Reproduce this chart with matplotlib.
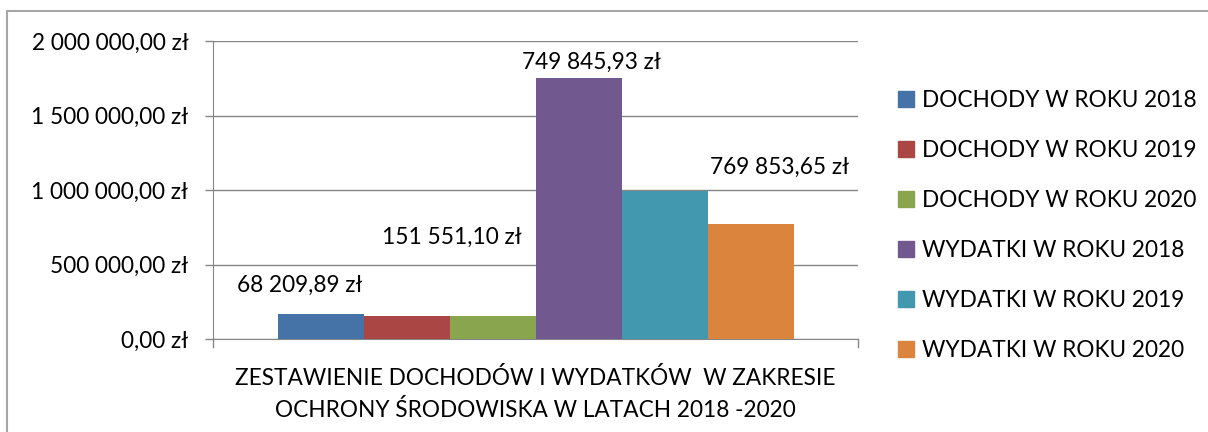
import matplotlib
matplotlib.use("Agg")
import matplotlib.pyplot as plt
from matplotlib.patches import Rectangle
from matplotlib.lines import Line2D

plt.rcParams['font.family'] = ['Lato', 'DejaVu Sans']

series = ["DOCHODY W ROKU 2018", "DOCHODY W ROKU 2019", "DOCHODY W ROKU 2020",
          "WYDATKI W ROKU 2018", "WYDATKI W ROKU 2019", "WYDATKI W ROKU 2020"]
values = [168209.89, 155000.00, 151551.10, 1749845.93, 995000.00, 769853.65]
colors = ["#4572A7", "#AA4643", "#89A54E", "#71588F", "#4198AF", "#DB843D"]
category = "ZESTAWIENIE DOCHODÓW I WYDATKÓW  W ZAKRESIE\nOCHRONY ŚRODOWISKA W LATACH 2018 -2020"
yticks = [0, 500000, 1000000, 1500000, 2000000]
ytick_labels = ["0,00 zł", "500 000,00 zł", "1 000 000,00 zł", "1 500 000,00 zł", "2 000 000,00 zł"]
# data labels as shown in the chart (series index, text, pixel offset)
label_series = [0, 2, 3, 5]
label_texts = ["68 209,89 zł", "151 551,10 zł", "749 845,93 zł", "769 853,65 zł"]
label_offsets = [(-21, 29), (-41, 79), (13, 16), (29, 57)]

FS = 16.3
W, H = 1208, 432
fig = plt.figure(figsize=(W / 100, H / 100), dpi=100)

# outer chart border (only top/left visible)
fig.patches.append(Rectangle((7 / W, -0.2), 1.2, 1.2 - 11 / H, transform=fig.transFigure,
                             fill=False, edgecolor="#A6A6A6", linewidth=1.5))

left, right, top, bottom = 213, 858, 41, 339
ax = fig.add_axes([left / W, 1 - bottom / H, (right - left) / W, (bottom - top) / H])

n = len(values)
group = 0.8
bw = group / n
xs = [-group / 2 + bw * (i + 0.5) for i in range(n)]
for i in range(n):
    ax.bar(xs[i], values[i], width=bw, color=colors[i], label=series[i], zorder=3)

ax.set_xlim(-0.5, 0.5)
ax.set_ylim(0, 2000000)
ax.set_yticks(yticks)
ax.set_yticklabels(ytick_labels, fontsize=FS)
ax.set_xticks([0])
ax.set_xticklabels([category], fontsize=FS, linespacing=1.55)
ax.tick_params(axis='x', length=0, pad=20)
ax.tick_params(axis='y', length=5.8, color="#868686", width=1, pad=12)
ax.grid(axis='y', color="#868686", linewidth=1, zorder=0)
for s in ['top', 'right']:
    ax.spines[s].set_visible(False)
ax.spines['left'].set_color("#868686")
ax.spines['bottom'].set_color("#868686")

# tick marks at category boundaries on x axis
for xb in (-0.5, 0.5):
    ax.add_line(Line2D([xb, xb], [0, -0.027], transform=ax.get_xaxis_transform(),
                       color="#868686", linewidth=1, clip_on=False))

for si, txt, (dx, dy) in zip(label_series, label_texts, label_offsets):
    ax.annotate(txt, (xs[si], values[si]), xytext=(dx, dy), textcoords='offset pixels',
                ha='center', va='center', fontsize=FS, zorder=5)

handles = [Rectangle((0, 0), 1, 1, color=c) for c in colors]
fig.legend(handles, series, loc='upper left', bbox_to_anchor=(889 / W, 1 - 81 / H),
           frameon=False, fontsize=FS, handlelength=0.7, handleheight=0.7,
           handletextpad=0.35, labelspacing=1.28, borderaxespad=0)

fig.savefig("out.png", dpi=100)
